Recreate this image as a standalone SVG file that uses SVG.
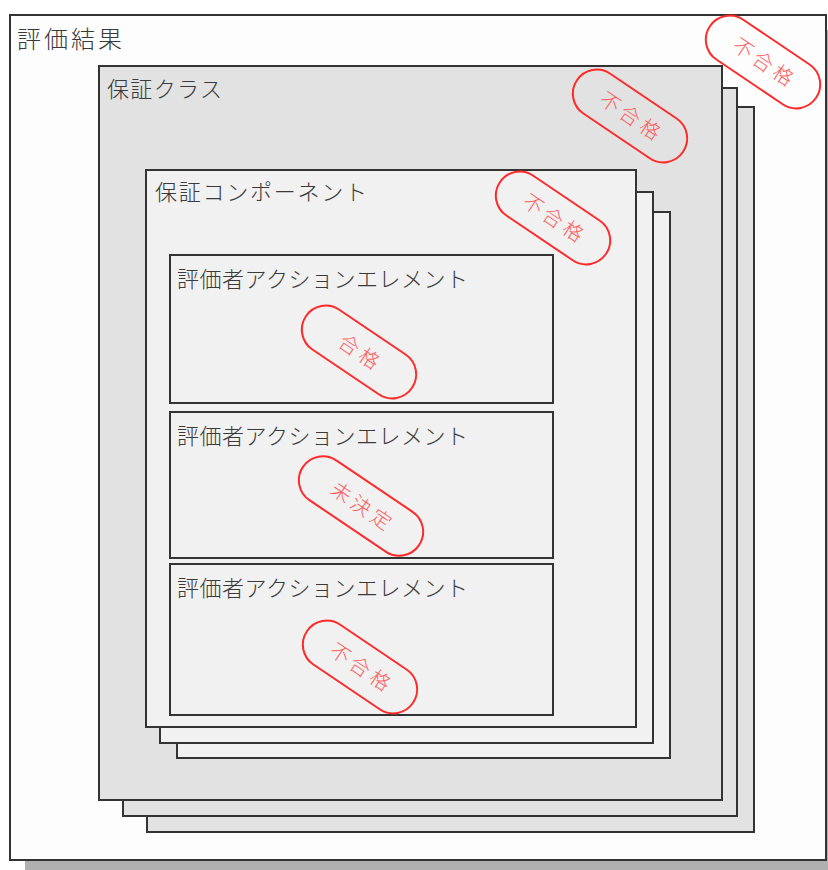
<svg xmlns="http://www.w3.org/2000/svg" width="828" height="870" viewBox="0 0 828 870">
<style>
.box{stroke:#333;stroke-width:2}
.outer{fill:#fdfdfd}
.cls{fill:#e2e2e2}
.cmp{fill:#f1f1f1}
.lbl{font-family:"Noto Sans CJK JP","Noto Sans",sans-serif;font-size:22px;fill:#3a3a3a;font-weight:300}
.big{font-size:24px}
.pill{fill:none;stroke:#ff2a2a;stroke-width:2}
.stxt{font-family:"Noto Sans CJK JP","Noto Sans",sans-serif;font-size:20px;fill:#ff5a5a;font-weight:300;text-anchor:middle}
</style>
<rect x="25" y="30" width="820" height="850" fill="#b0b0b0"/>
<g id="result">
<rect class="box outer" x="10" y="15" width="816" height="845"/>
<text class="lbl big" x="17" y="48" textLength="105">評価結果</text>
</g>
<g id="class">
<rect class="box cls" x="147" y="107" width="607" height="725"/>
<rect class="box cls" x="123" y="88" width="614" height="728"/>
<rect class="box cls" x="99" y="66" width="623" height="734"/>
<text class="lbl" x="107" y="97" textLength="115">保証クラス</text>
</g>
<g id="component">
<rect class="box cmp" x="177" y="212" width="493" height="546"/>
<rect class="box cmp" x="160" y="192" width="493" height="551"/>
<rect class="box cmp" x="146" y="170" width="490" height="557"/>
<text class="lbl" x="155" y="200" textLength="212">保証コンポーネント</text>
</g>
<g id="element1">
<rect class="box cmp" x="170" y="255" width="383" height="148"/>
<text class="lbl" x="177" y="287" textLength="291">評価者アクションエレメント</text>
</g>
<g id="element2">
<rect class="box cmp" x="170" y="412" width="383" height="146"/>
<text class="lbl" x="177" y="444" textLength="291">評価者アクションエレメント</text>
</g>
<g id="element3">
<rect class="box cmp" x="170" y="564" width="383" height="151"/>
<text class="lbl" x="177" y="596" textLength="291">評価者アクションエレメント</text>
</g>
<g id="stamp-result" transform="translate(763,62) rotate(34)">
<rect class="pill" x="-64" y="-24" width="128" height="48" rx="24"/>
<text class="stxt" x="0" y="7" textLength="68">不合格</text>
</g>
<g id="stamp-class" transform="translate(630,116) rotate(34)">
<rect class="pill" x="-64" y="-24" width="128" height="48" rx="24"/>
<text class="stxt" x="0" y="7" textLength="68">不合格</text>
</g>
<g id="stamp-component" transform="translate(553,218) rotate(34)">
<rect class="pill" x="-64" y="-24" width="128" height="48" rx="24"/>
<text class="stxt" x="0" y="7" textLength="68">不合格</text>
</g>
<g id="stamp-pass" transform="translate(359,352) rotate(34)">
<rect class="pill" x="-64" y="-24" width="128" height="48" rx="24"/>
<text class="stxt" x="0" y="7" textLength="44">合格</text>
</g>
<g id="stamp-pending" transform="translate(361,506) rotate(34)">
<rect class="pill" x="-70" y="-24" width="140" height="48" rx="24"/>
<text class="stxt" x="0" y="7" textLength="68">未決定</text>
</g>
<g id="stamp-fail" transform="translate(360,667) rotate(34)">
<rect class="pill" x="-64" y="-24" width="128" height="48" rx="24"/>
<text class="stxt" x="0" y="7" textLength="68">不合格</text>
</g>
</svg>
